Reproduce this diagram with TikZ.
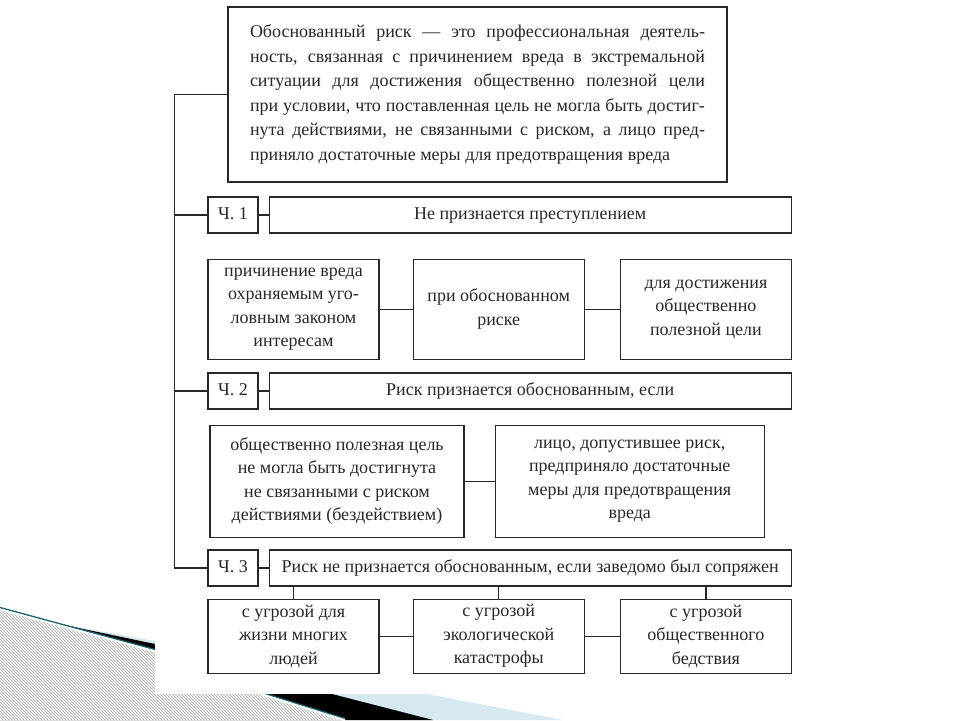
\documentclass[tikz,border=0pt]{standalone}
\usepackage{fontspec}
\setmainfont{Liberation Serif}
\usetikzlibrary{positioning,patterns}

\definecolor{ink}{RGB}{40,40,40}
\definecolor{wedgeteal}{RGB}{30,100,110}
\definecolor{wedgeblue}{RGB}{214,232,240}

\begin{document}
\begin{tikzpicture}[x=1pt, y=-1pt,
    box/.style={rectangle, draw=ink, line width=1.2pt, align=center, text=ink, font=\fontsize{18}{23.5}\selectfont, inner sep=1pt},
    defbox/.style={box, font=\fontsize{18}{24.5}\selectfont, text width=455pt, align=justify, minimum width=499pt, minimum height=175pt, inner xsep=22pt},
    chbox/.style={box, minimum width=50pt, minimum height=36pt, text height=12pt, text depth=3.5pt},
    titlebox/.style={box, minimum width=522pt, minimum height=36pt, text height=12pt, text depth=3.5pt},
    casebox/.style={box, minimum width=171pt, minimum height=100pt},
    condbox/.style={box, minimum height=112pt},
    threatbox/.style={box, minimum width=171pt, minimum height=74pt},
    link/.style={draw=ink, line width=1.2pt},
    hatch/.style={pattern=north west lines, pattern color=gray!60}
]
\useasboundingbox (0,0) rectangle (960,720);

% slide decoration, bottom left
\fill[wedgeblue] (50,622) -- (155,641) -- (427,694) -- (563,720) -- (0,720) -- cycle;
\fill[black] (50,622) -- (155,644) -- (332,694) -- (433,720) -- (0,720) -- cycle;
\fill[gray!10] (0,609) -- (155,651) -- (265,695) -- (345,720) -- (0,720) -- cycle;
\fill[hatch] (0,609) -- (155,651) -- (265,695) -- (345,720) -- (0,720) -- cycle;
\draw[white, line width=2.5pt] (0,609) -- (155,651) -- (265,695) -- (345,720);
\draw[wedgeteal, line width=1.3pt, yshift=1.5pt] (0,609) -- (155,651) -- (265,695) -- (345,720);

% white sheet
\fill[white] (155,0) rectangle (800,694);

% definition
\node[defbox] (def) at (477.5,94.5) {\hyphenpenalty=10000 \spaceskip=.25em plus 2em minus .05em
Обоснованный риск~— это профессиональная деятель-\linebreak
ность, связанная с причинением вреда в экстремальной\linebreak
ситуации для достижения общественно полезной цели\linebreak
при условии, что поставленная цель не могла быть достиг-\linebreak
нута действиями, не связанными с риском, а лицо пред-\linebreak
приняло достаточные меры для предотвращения вреда};

% part 1
\node[chbox] (ch1) at (233,215) {Ч. 1};
\node[titlebox, right=10pt of ch1] (t1) {Не признается преступлением};
\node[casebox, below=25pt of ch1.south west, anchor=north west] (harm) {причинение вреда\\охраняемым уго-\\ловным законом\\интересам};
\node[casebox, right=33pt of harm] (just) {при обоснованном\\риске};
\node[casebox, right=35pt of just] (goal) {для достижения\\общественно\\полезной цели};

% part 2
\node[chbox] (ch2) at (233,391) {Ч. 2};
\node[titlebox, right=10pt of ch2] (t2) {Риск признается обоснованным, если};
\node[condbox, minimum width=254pt, below=15pt of ch2.south west, anchor=north west, xshift=2pt] (noalt) {общественно полезная цель\\не могла быть достигнута\\не связанными с риском\\действиями (бездействием)};
\node[condbox, minimum width=269pt, right=30pt of noalt] (measures) {лицо, допустившее риск,\\предприняло достаточные\\меры для предотвращения\\вреда};

% part 3
\node[chbox] (ch3) at (233,568) {Ч. 3};
\node[titlebox, right=10pt of ch3] (t3) {Риск не признается обоснованным, если заведомо был сопряжен};
\node[threatbox, below=12pt of ch3.south west, anchor=north west] (lives) {с угрозой для\\жизни многих\\людей};
\node[threatbox, right=33pt of lives] (eco) {с угрозой\\экологической\\катастрофы};
\node[threatbox, right=35pt of eco] (calam) {с угрозой\\общественного\\бедствия};

% trunk
\draw[link] (def.west) -- ++(-53,0) coordinate (trunk) |- (ch3.west);
\draw[link] (trunk |- ch1.west) -- (ch1.west);
\draw[link] (trunk |- ch2.west) -- (ch2.west);

% links
\draw[link] (ch1) -- (t1);
\draw[link] (ch2) -- (t2);
\draw[link] (ch3) -- (t3);
\draw[link] (harm) -- (just);
\draw[link] (just) -- (goal);
\draw[link] (noalt) -- (measures);
\draw[link] (lives) -- (eco);
\draw[link] (eco) -- (calam);
\foreach \n in {lives, eco, calam}
    \draw[link] (\n.north) -- (\n.north |- t3.south);

\end{tikzpicture}
\end{document}
